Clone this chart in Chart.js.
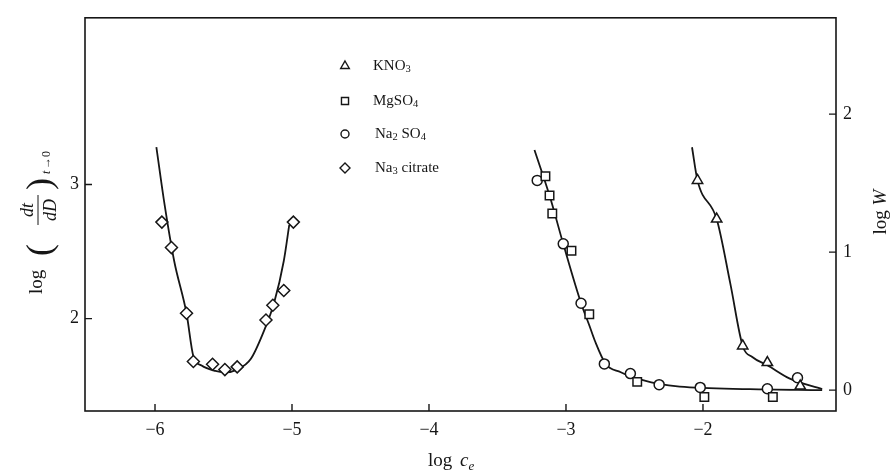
<!DOCTYPE html>
<html>
<head>
<meta charset="utf-8">
<script src="https://cdn.jsdelivr.net/npm/chart.js@4.4.0/dist/chart.umd.min.js"></script>
<style>
  html, body { margin: 0; padding: 0; background: #fff; }
</style>
</head>
<body>
<canvas id="chart" width="890" height="470"></canvas>
<script>
/* log(dt/dD) and log W against log c_e */

// axis ticks
const xTicks = [-6, -5, -4, -3, -2];
const leftTicks = [2, 3];
const rightTicks = [0, 1, 2];

// Na3 citrate (left axis)
const citrateX = [-5.95, -5.88, -5.77, -5.72, -5.58, -5.49, -5.40, -5.19, -5.14, -5.06, -4.99];
const citrateY = [2.72, 2.53, 2.04, 1.68, 1.66, 1.62, 1.64, 1.99, 2.10, 2.21, 2.72];
const citrateCurveX = [-5.99, -5.93, -5.86, -5.77, -5.72, -5.66, -5.56, -5.49, -5.40, -5.30, -5.20, -5.13, -5.06, -5.02];
const citrateCurveY = [3.28, 2.85, 2.43, 2.04, 1.72, 1.65, 1.61, 1.60, 1.62, 1.70, 1.92, 2.12, 2.43, 2.70];

// MgSO4, Na2SO4 (right axis)
const mgso4X = [-3.15, -3.12, -3.10, -2.96, -2.83, -2.48, -1.99, -1.49];
const mgso4Y = [1.55, 1.41, 1.28, 1.01, 0.55, 0.06, -0.05, -0.05];
const na2so4X = [-3.21, -3.02, -2.89, -2.72, -2.53, -2.32, -2.02, -1.53, -1.31];
const na2so4Y = [1.52, 1.06, 0.63, 0.19, 0.12, 0.04, 0.02, 0.01, 0.09];
const sulfateCurveX = [-3.23, -3.12, -3.02, -2.89, -2.83, -2.79, -2.71, -2.60, -2.53, -2.32, -2.17, -1.66, -1.13];
const sulfateCurveY = [1.74, 1.41, 1.06, 0.63, 0.47, 0.36, 0.19, 0.13, 0.10, 0.045, 0.025, 0.007, 0.0];

// KNO3 (right axis)
const kno3X = [-2.04, -1.90, -1.71, -1.53, -1.29];
const kno3Y = [1.52, 1.24, 0.32, 0.20, 0.03];
const kno3CurveX = [-2.08, -2.04, -1.90, -1.80, -1.71, -1.64, -1.53, -1.37, -1.13];
const kno3CurveY = [1.76, 1.52, 1.24, 0.77, 0.32, 0.24, 0.18, 0.085, 0.007];

const INK = '#161616';
const SERIF = '"Liberation Serif", "DejaVu Serif", serif';

const pts = (xs, ys) => xs.map((x, i) => ({ x: x, y: ys[i] }));

function markers(label, xs, ys, style, radius, axis) {
    return {
        label: label,
        data: pts(xs, ys),
        yAxisID: axis,
        pointStyle: style,
        pointRadius: radius,
        pointBorderWidth: 1.5,
        pointBorderColor: INK,
        pointBackgroundColor: '#fff',
        showLine: false,
        order: 1
    };
}

function curve(xs, ys, axis) {
    return {
        label: '',
        data: pts(xs, ys),
        yAxisID: axis,
        showLine: true,
        borderColor: INK,
        borderWidth: 1.8,
        pointRadius: 0,
        cubicInterpolationMode: 'monotone',
        order: 2,
        isCurve: true
    };
}

// draws text where digits become subscripts
function drawChem(ctx, text, x, y, size) {
    let cx = x;
    text.split(/(\d)/).forEach(part => {
        if (!part) return;
        const sub = /^\d$/.test(part);
        ctx.font = (sub ? size * 0.7 : size) + 'px ' + SERIF;
        ctx.fillText(part, cx, y + (sub ? size * 0.22 : 0));
        cx += ctx.measureText(part).width;
    });
}

const framePlugin = {
    id: 'frame',
    afterDraw(chart) {
        const ctx = chart.ctx;
        const a = chart.chartArea;
        ctx.save();
        ctx.strokeStyle = INK;
        ctx.fillStyle = INK;
        ctx.lineWidth = 1.6;
        ctx.strokeRect(a.left, a.top, a.right - a.left, a.bottom - a.top);

        // inward ticks
        ctx.lineWidth = 1.4;
        ctx.beginPath();
        xTicks.forEach(v => {
            const px = chart.scales.x.getPixelForValue(v);
            ctx.moveTo(px, a.bottom); ctx.lineTo(px, a.bottom - 7);
        });
        leftTicks.forEach(v => {
            const py = chart.scales.y.getPixelForValue(v);
            ctx.moveTo(a.left, py); ctx.lineTo(a.left + 7, py);
        });
        rightTicks.forEach(v => {
            const py = chart.scales.y2.getPixelForValue(v);
            ctx.moveTo(a.right, py); ctx.lineTo(a.right - 7, py);
        });
        ctx.stroke();

        // legend
        const rows = chart.data.datasets.filter(d => !d.isCurve);
        const legendOrder = ['KNO3', 'MgSO4', 'Na2 SO4', 'Na3 citrate'];
        const rowY = [66, 101, 134, 168];
        ctx.textBaseline = 'middle';
        ctx.textAlign = 'left';
        legendOrder.forEach((name, i) => {
            const ds = rows.find(d => d.label === name);
            ctx.strokeStyle = INK;
            ctx.fillStyle = '#fff';
            Chart.helpers.drawPoint(ctx, {
                pointStyle: ds.pointStyle,
                radius: ds.pointRadius - 1,
                borderWidth: 1.5,
                rotation: 0
            }, 345, rowY[i]);
            ctx.fillStyle = INK;
            drawChem(ctx, name, 373 + (i > 1 ? 2 : 0), rowY[i], 15);
        });

        // x title: log c_e
        ctx.textBaseline = 'alphabetic';
        ctx.font = '19px ' + SERIF;
        let tx = 428;
        ctx.fillText('log', tx, 466);
        tx += ctx.measureText('log ').width + 3;
        ctx.font = 'italic 19px ' + SERIF;
        ctx.fillText('c', tx, 466);
        tx += ctx.measureText('c').width;
        ctx.font = 'italic 13px ' + SERIF;
        ctx.fillText('e', tx, 470);

        // right title: log W
        ctx.save();
        ctx.translate(886, 212);
        ctx.rotate(-Math.PI / 2);
        ctx.font = '19px ' + SERIF;
        const w1 = ctx.measureText('log ').width;
        ctx.font = 'italic 19px ' + SERIF;
        const w2 = ctx.measureText('W').width;
        let u = -(w1 + w2) / 2;
        ctx.font = '19px ' + SERIF;
        ctx.fillText('log ', u, 0);
        ctx.font = 'italic 19px ' + SERIF;
        ctx.fillText('W', u + w1, 0);
        ctx.restore();

        // left title: log(dt/dD)_{t->0}
        ctx.save();
        ctx.translate(42, 210);
        ctx.rotate(-Math.PI / 2);
        ctx.font = '19px ' + SERIF;
        ctx.fillText('log', -84, 0);
        ctx.font = '36px ' + SERIF;
        ctx.fillText('(', -46, 9);
        ctx.textAlign = 'center';
        ctx.font = 'italic 18px ' + SERIF;
        ctx.fillText('dt', 0, -9);
        ctx.fillText('dD', 0, 14);
        ctx.lineWidth = 1;
        ctx.beginPath();
        ctx.moveTo(-15, -4); ctx.lineTo(15, -4);
        ctx.stroke();
        ctx.textAlign = 'left';
        ctx.font = '36px ' + SERIF;
        ctx.fillText(')', 20, 9);
        ctx.font = 'italic 12px ' + SERIF;
        ctx.fillText('t', 36, 8);
        ctx.font = '12px ' + SERIF;
        ctx.fillText('\u2192', 41, 8);
        ctx.fillText('0', 53, 8);
        ctx.restore();

        ctx.restore();
    }
};

const tickFont = { family: SERIF, size: 18 };
const minus = v => String(v).replace('-', '\u2212');

new Chart(document.getElementById('chart'), {
    type: 'scatter',
    data: {
        datasets: [
            curve(citrateCurveX, citrateCurveY, 'y'),
            curve(sulfateCurveX, sulfateCurveY, 'y2'),
            curve(kno3CurveX, kno3CurveY, 'y2'),
            markers('KNO3', kno3X, kno3Y, 'triangle', 6, 'y2'),
            markers('MgSO4', mgso4X, mgso4Y, 'rect', 6, 'y2'),
            markers('Na2 SO4', na2so4X, na2so4Y, 'circle', 5, 'y2'),
            markers('Na3 citrate', citrateX, citrateY, 'rectRot', 6, 'y')
        ]
    },
    options: {
        responsive: false,
        animation: false,
        layout: { padding: { top: 15, left: 0, right: 0, bottom: 0 } },
        plugins: {
            legend: { display: false },
            tooltip: { enabled: false }
        },
        scales: {
            x: {
                type: 'linear',
                min: -6.511,
                max: -1.029,
                afterBuildTicks: s => { s.ticks = xTicks.map(v => ({ value: v })); },
                afterFit: s => { s.height = 59; },
                grid: { display: false, drawTicks: false },
                border: { display: false },
                ticks: { font: tickFont, color: INK, padding: 8, maxRotation: 0, callback: minus }
            },
            y: {
                type: 'linear',
                position: 'left',
                min: 1.311,
                max: 4.244,
                afterBuildTicks: s => { s.ticks = leftTicks.map(v => ({ value: v })); },
                afterFit: s => { s.width = 85; },
                grid: { display: false, drawTicks: false },
                border: { display: false },
                ticks: { font: tickFont, color: INK, padding: 6 }
            },
            y2: {
                type: 'linear',
                position: 'right',
                min: -0.151,
                max: 2.698,
                afterBuildTicks: s => { s.ticks = rightTicks.map(v => ({ value: v })); },
                afterFit: s => { s.width = 54; },
                grid: { display: false, drawTicks: false },
                border: { display: false },
                ticks: { font: tickFont, color: INK, padding: 7 }
            }
        }
    },
    plugins: [framePlugin]
});
</script>
</body>
</html>
